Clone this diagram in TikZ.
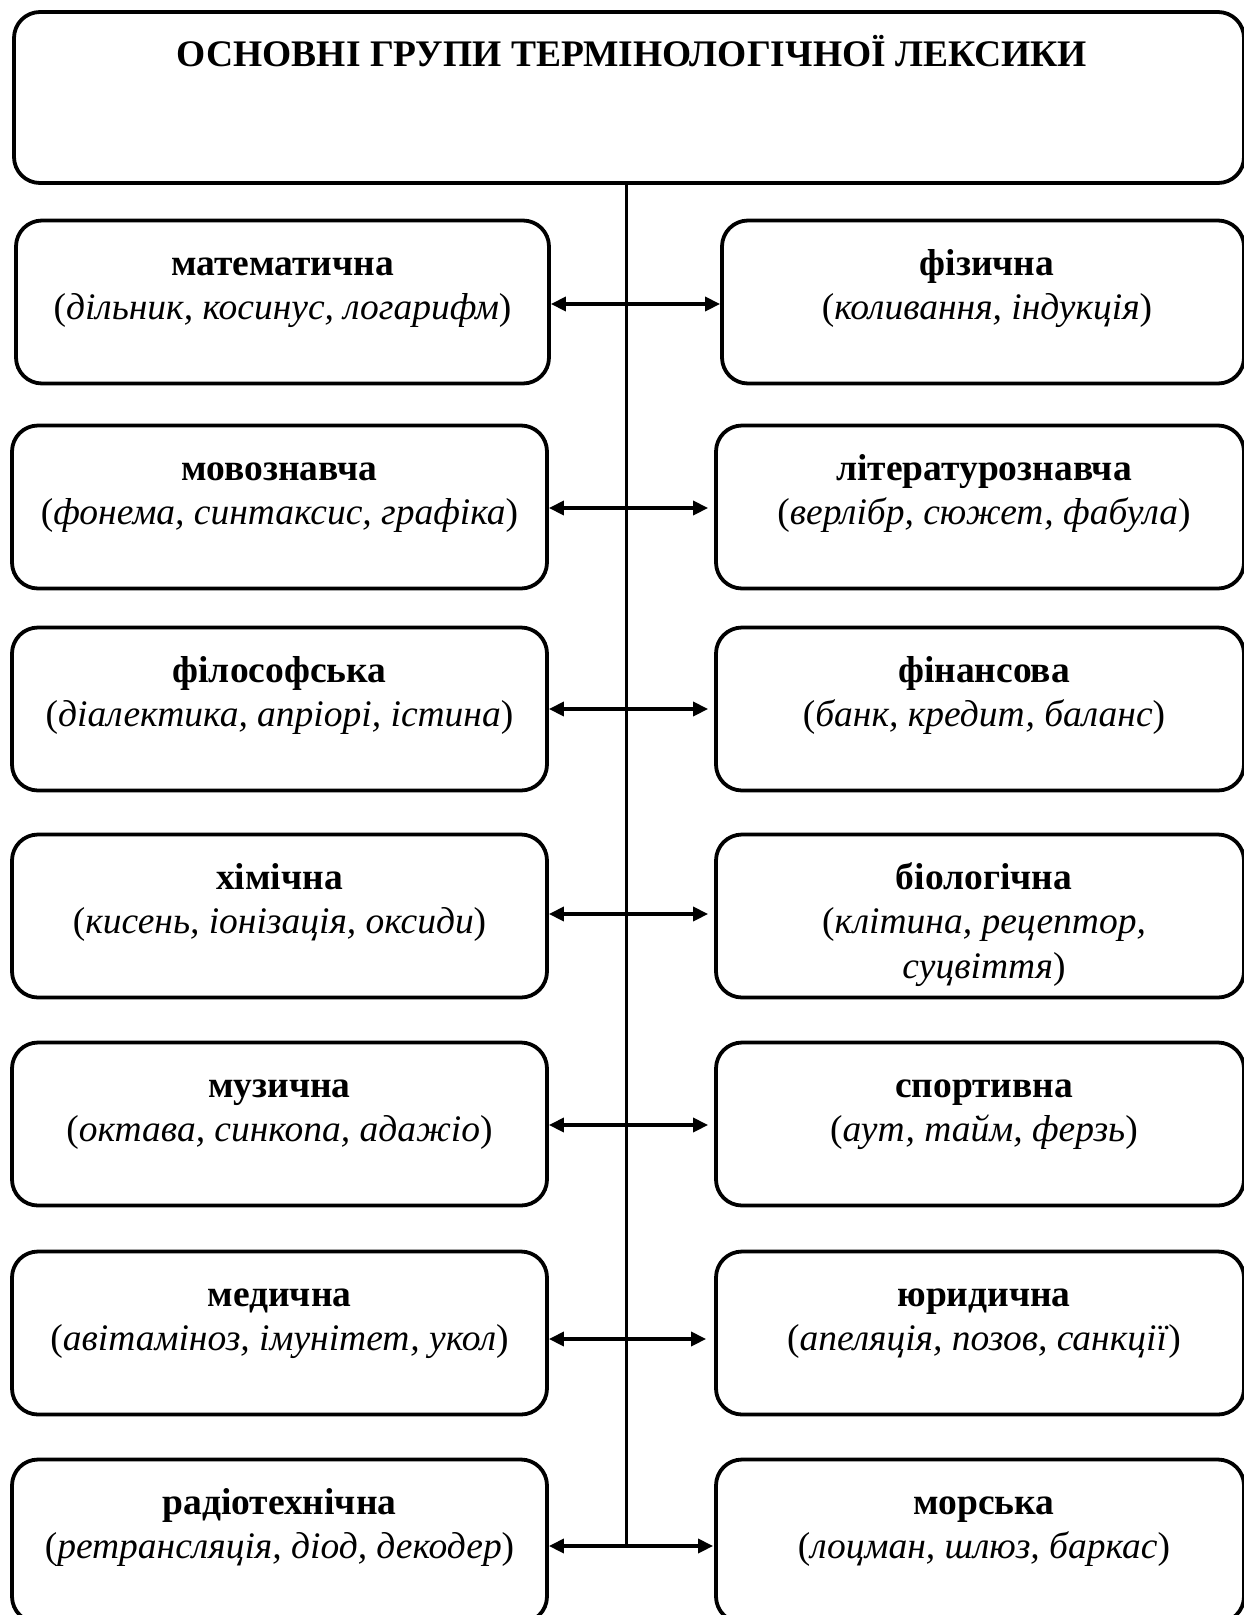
\documentclass[tikz,border=0pt]{standalone}
\usepackage{fontspec}
\setmainfont{Liberation Serif}[BoldFont={Liberation Serif Bold},ItalicFont={Liberation Serif Italic},BoldItalicFont={Liberation Serif Bold Italic}]
\usetikzlibrary{arrows.meta,calc}
\tikzset{
  grpbox/.style={draw, line width=3.8pt, rounded corners=26pt, inner sep=0pt, minimum height=163pt},
  lbox/.style={grpbox, minimum width=535pt},
  rbox/.style={grpbox, minimum width=528pt},
  txt/.style={align=center, inner sep=0pt, font=\fontsize{37.5}{44.5}\selectfont},
  conn/.style={line width=3.5pt, {Triangle[length=15pt,width=14pt]}-{Triangle[length=15pt,width=14pt]}},
  vline/.style={line width=3pt}
}
\begin{document}
\begin{tikzpicture}[x=1pt,y=-1pt]
\useasboundingbox (0,0) rectangle (1244,1615);
\clip (0,0) rectangle (1244,1615);
% top box
\node[grpbox, minimum width=1230pt, minimum height=171pt] (T) at (629,97.5) {};
\node[txt, font=\bfseries\fontsize{37.5}{44.5}\selectfont, anchor=base] (Tt) at ($(T.north)+(3,56)$) {ОСНОВНІ ГРУПИ ТЕРМІНОЛОГІЧНОЇ ЛЕКСИКИ};
\coordinate (trunk) at (626.5,0);
% left boxes
\node[lbox, minimum width=533pt] (L1) at (282.5,302) {};
\node[lbox] (L2) at (279.5,507) {};
\node[lbox] (L3) at (279.5,709) {};
\node[lbox] (L4) at (279.5,916) {};
\node[lbox] (L5) at (279.5,1124) {};
\node[lbox] (L6) at (279.5,1333) {};
\node[lbox] (L7) at (279.5,1541) {};
% right boxes
\node[rbox, minimum width=522pt] (R1) at (983,302) {};
\node[rbox] (R2) at (980,507) {};
\node[rbox] (R3) at (980,709) {};
\node[rbox] (R4) at (980,916) {};
\node[rbox] (R5) at (980,1124) {};
\node[rbox] (R6) at (980,1333) {};
\node[rbox] (R7) at (980,1541) {};
% texts
\node[txt, anchor=north] (L1t) at ($(L1.north)+(0,25.5)$) {\strut\textbf{математична}\\(\textit{дільник, косинус, логарифм})};
\node[txt, anchor=north] (L2t) at ($(L2.north)+(0,25.5)$) {\strut\textbf{мовознавча}\\(\textit{фонема, синтаксис, графіка})};
\node[txt, anchor=north] (L3t) at ($(L3.north)+(0,25.5)$) {\strut\textbf{філософська}\\(\textit{діалектика, апріорі, істина})};
\node[txt, anchor=north] (L4t) at ($(L4.north)+(0,25.5)$) {\strut\textbf{хімічна}\\(\textit{кисень, іонізація, оксиди})};
\node[txt, anchor=north] (L5t) at ($(L5.north)+(0,25.5)$) {\strut\textbf{музична}\\(\textit{октава, синкопа, адажіо})};
\node[txt, anchor=north] (L6t) at ($(L6.north)+(0,25.5)$) {\strut\textbf{медична}\\(\textit{авітаміноз, імунітет, укол})};
\node[txt, anchor=north] (L7t) at ($(L7.north)+(0,25.5)$) {\strut\textbf{радіотехнічна}\\(\textit{ретрансляція, діод, декодер})};
\node[txt, anchor=north] (R1t) at ($(R1.north)+(4,25.5)$) {\strut\textbf{фізична}\\(\textit{коливання, індукція})};
\node[txt, anchor=north] (R2t) at ($(R2.north)+(4,25.5)$) {\strut\textbf{літературознавча}\\(\textit{верлібр, сюжет, фабула})};
\node[txt, anchor=north] (R3t) at ($(R3.north)+(4,25.5)$) {\strut\textbf{фінансова}\\(\textit{банк, кредит, баланс})};
\node[txt, anchor=north] (R4t) at ($(R4.north)+(4,25.5)$) {\strut\textbf{біологічна}\\(\textit{клітина, рецептор,}\\\textit{суцвіття})};
\node[txt, anchor=north] (R5t) at ($(R5.north)+(4,25.5)$) {\strut\textbf{спортивна}\\(\textit{аут, тайм, ферзь})};
\node[txt, anchor=north] (R6t) at ($(R6.north)+(4,25.5)$) {\strut\textbf{юридична}\\(\textit{апеляція, позов, санкції})};
\node[txt, anchor=north] (R7t) at ($(R7.north)+(4,25.5)$) {\strut\textbf{морська}\\(\textit{лоцман, шлюз, баркас})};
% trunk
\draw[vline] (T.south -| trunk) -- ([yshift=-5pt]L7.east -| trunk);
% connectors
\draw[conn] ([yshift=-2pt]L1.east) -- ([yshift=-2pt]R1.west);
\draw[conn, shorten >=6pt] ([yshift=-1pt]L2.east) -- ([yshift=-1pt]R2.west);
\draw[conn, shorten >=6pt] (L3.east) -- (R3.west);
\draw[conn, shorten >=6pt] ([yshift=2pt]L4.east) -- ([yshift=2pt]R4.west);
\draw[conn, shorten >=6pt] ([yshift=-1pt]L5.east) -- ([yshift=-1pt]R5.west);
\draw[conn, shorten >=8pt] ([yshift=-6pt]L6.east) -- ([yshift=-6pt]R6.west);
\draw[conn, shorten >=1pt] ([yshift=-5pt]L7.east) -- ([yshift=-5pt]R7.west);
\end{tikzpicture}
\end{document}
